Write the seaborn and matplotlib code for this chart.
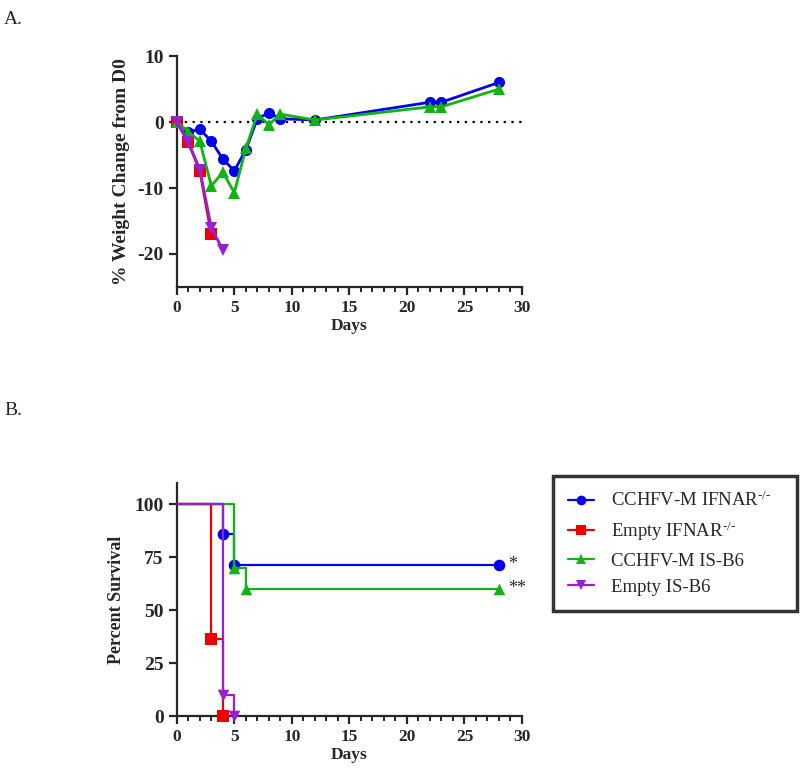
import numpy as np
import pandas as pd
import seaborn as sns
import matplotlib.pyplot as plt
from matplotlib.lines import Line2D
from matplotlib.ticker import MultipleLocator

sns.set_style('ticks')
plt.rcParams['font.family'] = ['Liberation Serif', 'DejaVu Serif']
plt.rcParams['mathtext.fontset'] = 'custom'
plt.rcParams['mathtext.rm'] = 'Liberation Serif'
plt.rcParams['mathtext.default'] = 'rm'
plt.rcParams['axes.unicode_minus'] = False

groups = ['CCHFV-M IFNAR$^{\u2010/\u2010}$', 'Empty IFNAR$^{\u2010/\u2010}$', 'CCHFV-M IS-B6', 'Empty IS-B6']
colors = ['#0000EE', '#EE0000', '#11B311', '#9A1FD0']
markers = ['o', 's', '^', 'v']

# panel A: % weight change from day 0
days_blue = [0, 1, 2, 3, 4, 5, 6, 7, 8, 9, 12, 22, 23, 28]
wt_blue = [0, -1.5, -1.1, -2.9, -5.6, -7.4, -4.2, 0.5, 1.4, 0.5, 0.3, 3.0, 3.0, 6.0]
days_green = [0, 1, 2, 3, 4, 5, 6, 7, 8, 9, 12, 22, 23, 28]
wt_green = [0, -1.5, -2.9, -9.7, -7.6, -10.7, -4.0, 1.2, -0.4, 1.2, 0.3, 2.3, 2.3, 5.0]
days_red = [0, 1, 2, 3]
wt_red = [0, -3.1, -7.4, -17.0]
days_purple = [0, 1, 2, 3, 4]
wt_purple = [0, -3.0, -7.2, -16.0, -19.4]

# panel B: Kaplan-Meier survival
km_days_blue = [0, 4, 5, 28]
km_surv_blue = [100, 85.7, 71.4, 71.4]
km_days_red = [0, 3, 4]
km_surv_red = [100, 36.4, 0]
km_days_green = [0, 5, 6, 28]
km_surv_green = [100, 70, 60, 60]
km_days_purple = [0, 4, 5]
km_surv_purple = [100, 10, 0]
sig_labels = {0: '*', 2: '**'}

weight = [(days_blue, wt_blue), (days_red, wt_red), (days_green, wt_green), (days_purple, wt_purple)]
km = [(km_days_blue, km_surv_blue), (km_days_red, km_surv_red),
      (km_days_green, km_surv_green), (km_days_purple, km_surv_purple)]

fig = plt.figure(figsize=(8, 7.75), dpi=100)
axA = fig.add_axes([0.221, 0.6297, 0.4315, 0.298])
axB = fig.add_axes([0.221, 0.0761, 0.4315, 0.3007])

# --- panel A
axA.axhline(0, color='black', ls=(0, (1, 2.5)), lw=1.6, zorder=1)
for i in [3, 1, 2, 0]:
    d, w = weight[i]
    df = pd.DataFrame({'day': d, 'wt': w})
    sns.lineplot(data=df, x='day', y='wt', ax=axA, color=colors[i], marker=markers[i],
                 markersize=8, markeredgewidth=0, lw=2, zorder=3 + i, clip_on=False)
axA.set_xlim(0, 30)
axA.set_ylim(-25, 10)
axA.set_yticks([-20, -10, 0, 10])
axA.set_xlabel('Days', fontsize=12.5, fontweight='bold', labelpad=1)
axA.set_ylabel('% Weight Change from D0', fontsize=14, fontweight='bold', labelpad=5)

# --- panel B
for i in [1, 3, 2, 0]:
    d, s = km[i]
    df = pd.DataFrame({'day': d, 'surv': s})
    sns.lineplot(data=df, x='day', y='surv', ax=axB, color=colors[i], lw=1.6,
                 drawstyle='steps-post', zorder=3 + i)
    sns.scatterplot(data=df.iloc[1:], x='day', y='surv', ax=axB, color=colors[i],
                    marker=markers[i], s=70, linewidth=0, zorder=4 + i, clip_on=False)
    if i in sig_labels:
        axB.text(d[-1] + 0.8, s[-1], sig_labels[i], fontsize=13, va='center', ha='left')
axB.set_xlim(0, 30)
axB.set_ylim(0, 110)
axB.set_yticks([0, 25, 50, 75, 100])
axB.set_xlabel('Days', fontsize=12.5, fontweight='bold', labelpad=1)
axB.set_ylabel('Percent Survival', fontsize=13, fontweight='bold', labelpad=7)

for ax in (axA, axB):
    sns.despine(ax=ax)
    ax.xaxis.set_major_locator(MultipleLocator(5))
    ax.xaxis.set_minor_locator(MultipleLocator(1))
    for sp in ax.spines.values():
        sp.set_linewidth(1.6)
    ax.tick_params(which='major', length=6, width=1.6, direction='out')
    ax.tick_params(which='minor', length=3.5, width=1.4, direction='out')
    ax.tick_params(axis='y', which='minor', length=0)
    for lab in ax.get_xticklabels():
        lab.set_fontsize(12.5)
        lab.set_fontweight('bold')
    for lab in ax.get_yticklabels():
        lab.set_fontsize(14)
        lab.set_fontweight('bold')
    ax.grid(False)

handles = [Line2D([], [], color=colors[i], marker=markers[i], lw=1.6, markersize=7,
                  markeredgewidth=0) for i in range(4)]
leg = fig.legend(handles, groups, loc='upper left', bbox_to_anchor=(0.691, 0.226, 0.305, 0.16),
                 mode='expand', frameon=True, fancybox=False, edgecolor='black', fontsize=13.5,
                 handlelength=1.4, borderpad=0.8, labelspacing=0.5, handletextpad=0.9,
                 borderaxespad=0)
leg.get_frame().set_linewidth(2.5)

fig.text(0.005, 0.975, 'A.', fontsize=14, va='center', ha='left')
fig.text(0.005, 0.47, 'B.', fontsize=14, va='center', ha='left')

fig.savefig('out.png', dpi=100)
